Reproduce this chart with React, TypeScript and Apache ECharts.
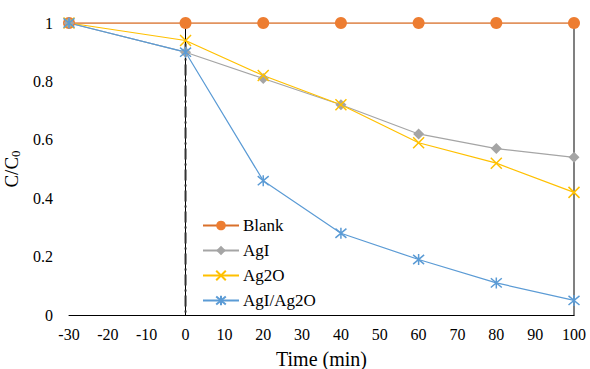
import React, { useEffect, useRef } from "react";
import * as echarts from "echarts";

const times = [-30, 0, 20, 40, 60, 80, 100];
const blank = [1, 1, 1, 1, 1, 1, 1];
const agI = [1, 0.9, 0.81, 0.72, 0.62, 0.57, 0.54];
const ag2O = [1, 0.94, 0.82, 0.72, 0.59, 0.52, 0.42];
const agIAg2O = [1, 0.9, 0.46, 0.28, 0.19, 0.11, 0.05];
const darkLine = [[0, 0.93], [0, 0]];

const FONT = "Liberation Serif";
const X_PATH = "path://M0,0L10,10M10,0L0,10";
const STAR_PATH = "path://M0,0L10,10M10,0L0,10M5,-1L5,11";

const pts = (v: number[]) => times.map((t, i) => [t, v[i]]);

export default function App() {
  const ref = useRef<HTMLDivElement>(null);
  useEffect(() => {
    if (!ref.current) return;
    document.body.style.margin = "0";
    const chart = echarts.init(ref.current, undefined, { renderer: "svg" });
    chart.setOption({
      animation: false,
      grid: { left: 69, right: 16, top: 23, bottom: 54, outerBoundsMode: "none", containLabel: false },
      legend: {
        orient: "vertical",
        left: 197,
        top: 212,
        itemWidth: 36,
        itemHeight: 12,
        itemGap: 8,
        data: ["Blank", "AgI", "Ag2O", "AgI/Ag2O"],
        textStyle: { fontFamily: FONT, fontSize: 17, color: "#000", padding: [0, 0, 0, -1] },
      },
      xAxis: {
        type: "value",
        min: -30,
        max: 100,
        interval: 10,
        name: "Time (min)",
        nameLocation: "middle",
        nameGap: 34,
        nameTextStyle: { fontFamily: FONT, fontSize: 20, color: "#000" },
        axisLine: { lineStyle: { color: "#000", width: 1 } },
        axisTick: { show: false },
        splitLine: { show: false },
        axisLabel: { fontFamily: FONT, fontSize: 16, color: "#000", margin: 11 },
      },
      yAxis: [
        {
          type: "value",
          min: 0,
          max: 1,
          interval: 0.2,
          name: "C/C{sub|0}",
          nameLocation: "middle",
          nameGap: 40,
          nameTextStyle: {
            fontFamily: FONT,
            fontSize: 19,
            color: "#000",
            rich: { sub: { fontFamily: FONT, fontSize: 13, verticalAlign: "bottom", padding: [9, 0, 0, 0] } },
          },
          axisLine: { show: true, lineStyle: { color: "#000", width: 1 } },
          axisTick: { show: false },
          splitLine: { show: false },
          axisLabel: { fontFamily: FONT, fontSize: 16, color: "#000", margin: 16 },
        },
        {
          type: "value",
          min: 0,
          max: 1,
          interval: 0.2,
          position: "right",
          axisLine: { show: true, lineStyle: { color: "#808080", width: 2 } },
          axisTick: { show: false },
          axisLabel: { show: false },
          splitLine: { show: false },
        },
      ],
      series: [
        {
          name: "dashdot",
          type: "line",
          data: darkLine,
          symbol: "none",
          lineStyle: { color: "#333", width: 2, type: [11, 4, 2, 4] },
          silent: true,
          z: 1,
        },
        {
          name: "Blank",
          type: "line",
          data: pts(blank),
          symbol: "circle",
          symbolSize: 12,
          itemStyle: { color: "#ED7D31" },
          lineStyle: { color: "#D9702B", width: 1.4 },
        },
        {
          name: "AgI",
          type: "line",
          data: pts(agI),
          symbol: "diamond",
          symbolSize: 11,
          itemStyle: { color: "#A5A5A5" },
          lineStyle: { color: "#A5A5A5", width: 1.2 },
        },
        {
          name: "Ag2O",
          type: "line",
          data: pts(ag2O),
          symbol: X_PATH,
          symbolSize: 11,
          itemStyle: { color: "#FFC000", borderColor: "#FFC000", borderWidth: 1.5 },
          lineStyle: { color: "#FFC000", width: 1.2 },
        },
        {
          name: "AgI/Ag2O",
          type: "line",
          data: pts(agIAg2O),
          symbol: STAR_PATH,
          symbolSize: 11,
          itemStyle: { color: "#5B9BD5", borderColor: "#5B9BD5", borderWidth: 1.5 },
          lineStyle: { color: "#5B9BD5", width: 1.2 },
        },
      ],
    });
    return () => chart.dispose();
  }, []);
  return <div ref={ref} style={{ width: 590, height: 369 }} />;
}
